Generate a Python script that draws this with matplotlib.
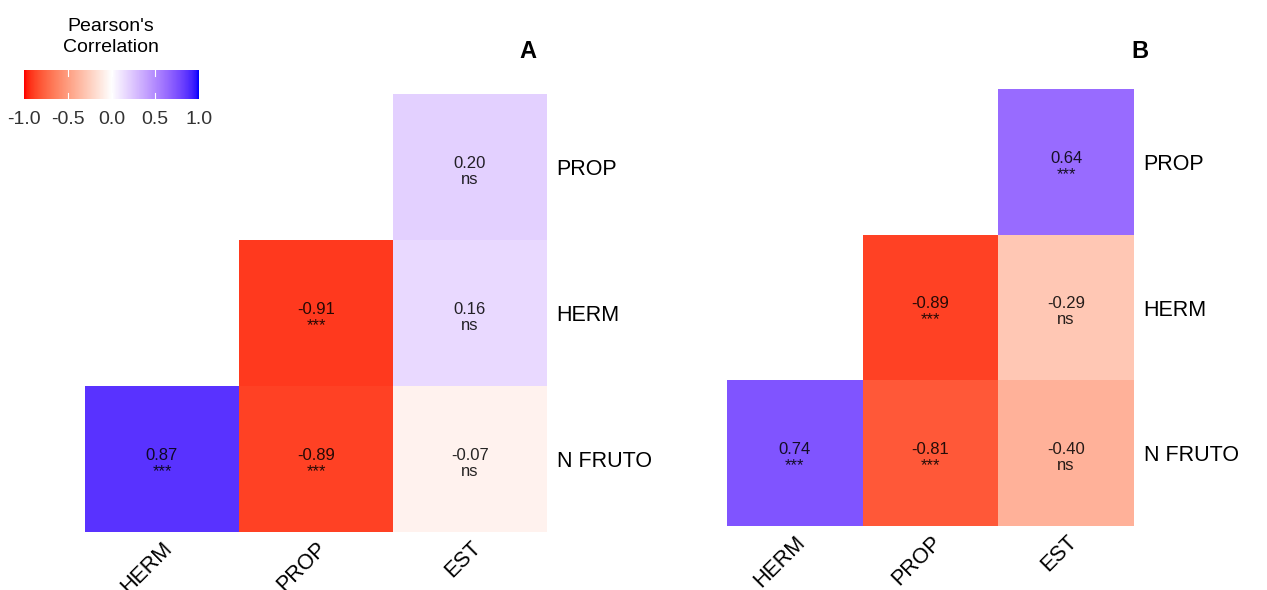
import numpy as np

import matplotlib as mpl
mpl.use('Agg')
import matplotlib.pyplot as plt
from matplotlib.colors import ListedColormap, to_rgb
from matplotlib.transforms import ScaledTranslation

plt.rcParams['font.family'] = ['Liberation Sans', 'DejaVu Sans']

# column / row labels (rows listed bottom -> top)
col_labels = ["HERM", "PROP", "EST"]
row_labels = ["N FRUTO", "HERM", "PROP"]

# lower triangle, NaN = empty cell
corr_a = np.array([[0.87, -0.89, -0.07],
                   [np.nan, -0.91, 0.16],
                   [np.nan, np.nan, 0.20]])
sig_a = [["***", "***", "ns"],
         ["", "***", "ns"],
         ["", "", "ns"]]

corr_b = np.array([[0.74, -0.81, -0.40],
                   [np.nan, -0.89, -0.29],
                   [np.nan, np.nan, 0.64]])
sig_b = [["***", "***", "ns"],
         ["", "***", "ns"],
         ["", "", "***"]]

legend_ticks = [-1.0, -0.5, 0.0, 0.5, 1.0]


def srgb_to_lab(c):
    c = np.asarray(c, dtype=float)
    lin = np.where(c <= 0.04045, c / 12.92, ((c + 0.055) / 1.055) ** 2.4)
    M = np.array([[0.4124, 0.3576, 0.1805],
                  [0.2126, 0.7152, 0.0722],
                  [0.0193, 0.1192, 0.9505]])
    xyz = M @ lin / np.array([0.95047, 1.0, 1.08883])
    f = np.where(xyz > (6/29)**3, np.cbrt(xyz), xyz / (3*(6/29)**2) + 4/29)
    return np.array([116*f[1] - 16, 500*(f[0]-f[1]), 200*(f[1]-f[2])])


def lab_to_srgb(lab):
    L, a, b = lab
    fy = (L + 16) / 116
    fx = fy + a / 500
    fz = fy - b / 200
    f = np.array([fx, fy, fz])
    xyz = np.where(f > 6/29, f**3, 3*(6/29)**2 * (f - 4/29)) * np.array([0.95047, 1.0, 1.08883])
    Minv = np.array([[3.2406, -1.5372, -0.4986],
                     [-0.9689, 1.8758, 0.0415],
                     [0.0557, -0.2040, 1.0570]])
    lin = np.clip(Minv @ xyz, 0, 1)
    c = np.where(lin <= 0.0031308, 12.92*lin, 1.055*lin**(1/2.4) - 0.055)
    return np.clip(c, 0, 1)


def lab_diverging(low, mid, high, n=256):
    # same idea as ggplot's gradient2: interpolate in CIELAB
    lo, mi, hi = (srgb_to_lab(to_rgb(x)) for x in (low, mid, high))
    cols = []
    for t in np.linspace(0, 1, n):
        if t < 0.5:
            lab = lo + (mi - lo) * (t / 0.5)
        else:
            lab = mi + (hi - mi) * ((t - 0.5) / 0.5)
        cols.append(lab_to_srgb(lab))
    return ListedColormap(cols)


cmap = lab_diverging("red", "white", "blue")

W, H = 1267, 590
fig = plt.figure(figsize=(W/100, H/100), dpi=100)


def px_axes(x0, y0, x1, y1):
    return fig.add_axes([x0/W, 1 - y1/H, (x1-x0)/W, (y1-y0)/H])


def draw_panel(ax, corr, sig, letter, letter_pos):
    m = np.ma.masked_invalid(corr)
    ax.pcolormesh(m, cmap=cmap, vmin=-1, vmax=1, edgecolors="none")
    ax.set_xlim(0, 3)
    ax.set_ylim(0, 3)
    for i in range(3):
        for j in range(3):
            if np.isnan(corr[i, j]):
                continue
            ax.text(j + 0.5, i + 0.47, f"{corr[i, j]:.2f}\n{sig[i][j]}",
                    ha="center", va="center", fontsize=12, color="black", alpha=0.85,
                    linespacing=1.1)
    for s in ax.spines.values():
        s.set_visible(False)
    ax.set_xticks(np.arange(3) + 0.5)
    ax.set_xticklabels(col_labels, rotation=45, ha="right", va="top",
                       rotation_mode="anchor", fontsize=15.5)
    off = ScaledTranslation(0.09, -0.02, fig.dpi_scale_trans)
    for lab in ax.get_xticklabels():
        lab.set_transform(lab.get_transform() + off)
    ax.set_yticks(np.arange(3) + 0.5)
    ax.set_yticklabels(row_labels, fontsize=15.5)
    ax.yaxis.tick_right()
    ax.tick_params(axis="y", length=0, pad=7)
    ax.tick_params(axis="x", length=0, pad=4)
    ax.text(letter_pos[0], letter_pos[1], letter, transform=ax.transAxes,
            ha="center", va="center", fontsize=17, fontweight="bold")


ax_a = px_axes(85, 94, 547, 532)
draw_panel(ax_a, corr_a, sig_a, "A", (0.959, 1.096))

ax_b = px_axes(727, 89, 1134, 526)
draw_panel(ax_b, corr_b, sig_b, "B", (1.015, 1.085))

# colour legend
cax = px_axes(24, 70, 199, 99)
grad = np.linspace(-1, 1, 300).reshape(1, -1)
cax.imshow(grad, cmap=cmap, vmin=-1, vmax=1, aspect="auto", extent=[-1, 1, 0, 1])
cax.set_xlim(-1, 1)
cax.set_ylim(0, 1)
for t in legend_ticks:
    if -1 < t < 1:
        cax.plot([t, t], [0, 0.2], color="white", lw=0.8)
        cax.plot([t, t], [0.8, 1], color="white", lw=0.8)
cax.set_yticks([])
cax.set_xticks(legend_ticks)
cax.set_xticklabels([f"{t:.1f}" for t in legend_ticks], fontsize=14, color="#333333")
cax.tick_params(axis="x", length=0, pad=9)
for s in cax.spines.values():
    s.set_visible(False)
fig.text(111/W, 1 - 37/H, "Pearson's\nCorrelation", ha="center", va="center",
         fontsize=14, linespacing=1.3)

fig.savefig("out.png", dpi=100)
